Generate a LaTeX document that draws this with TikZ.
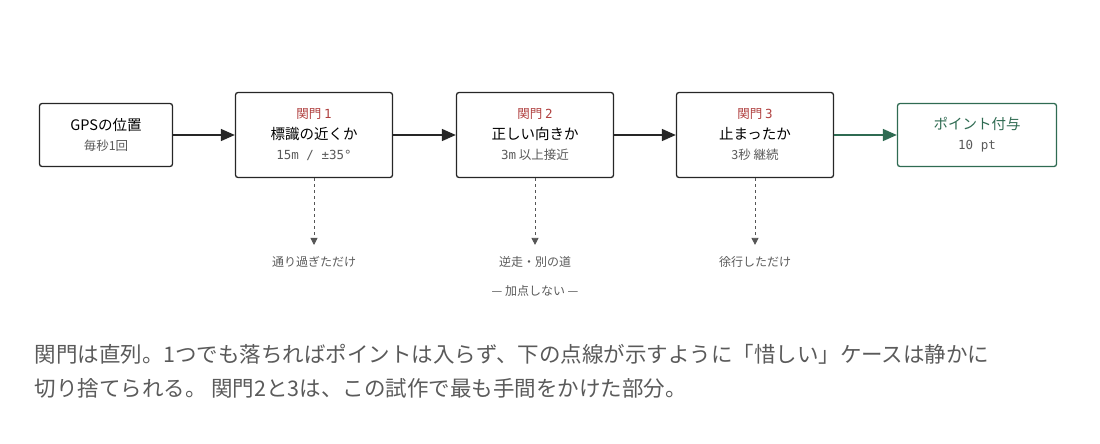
\documentclass[tikz,border=0pt]{standalone}
\usepackage{fontspec}
\setmainfont{Noto Sans CJK JP}
\newfontfamily\jpmono{DejaVu Sans Mono}
\usetikzlibrary{arrows.meta, positioning}
\definecolor{gatered}{HTML}{B0403F}
\definecolor{okgreen}{HTML}{2F6B52}
\definecolor{subgray}{HTML}{5A5A5A}
\definecolor{linegray}{HTML}{555555}

\tikzset{
    stage/.style={draw=black!85, line width=1.3pt, rounded corners=2.5pt, fill=white,
        minimum width=157pt, minimum height=85pt, align=center, font=\fontsize{14.5}{21}\selectfont},
    flow/.style={-{Triangle[length=14pt, width=12pt]}, line width=1.5pt, black!85},
    drop/.style={-{Triangle[length=7pt, width=7pt]}, dashed, line width=0.8pt, linegray},
    droplabel/.style={font=\fontsize{12}{14}\selectfont, text=subgray}
}

\begin{document}
\begin{tikzpicture}[x=1pt, y=-1pt]
    \useasboundingbox (0,0) rectangle (1100,444);

    % Pipeline stages
    \node[stage, minimum width=133pt, minimum height=63pt] (gps) at (106,135)
        {GPSの位置\\[-1pt]{\fontsize{12.5}{15}\selectfont\color{subgray}毎秒1回}};
    \node[stage] (gate1) at (314,135)
        {{\fontsize{12.5}{15}\selectfont\color{gatered}関門 {\jpmono 1}}\\標識の近くか\\[-1pt]{\fontsize{12.5}{15}\selectfont\color{subgray}\jpmono 15m / ±35°}};
    \node[stage] (gate2) at (535,135)
        {{\fontsize{12.5}{15}\selectfont\color{gatered}関門 {\jpmono 2}}\\正しい向きか\\[-1pt]{\fontsize{12.5}{15}\selectfont\color{subgray}{\jpmono 3m} 以上接近}};
    \node[stage] (gate3) at (755,135)
        {{\fontsize{12.5}{15}\selectfont\color{gatered}関門 {\jpmono 3}}\\止まったか\\[-1pt]{\fontsize{12.5}{15}\selectfont\color{subgray}3秒 継続}};
    \node[stage, draw=okgreen, minimum width=159pt, minimum height=63pt] (score) at (977,135)
        {{\color{okgreen}ポイント付与}\\[-1pt]{\fontsize{12.5}{15}\selectfont\color{subgray}\jpmono 10 pt}};

    \draw[flow] (gps) -- (gate1);
    \draw[flow] (gate1) -- (gate2);
    \draw[flow] (gate2) -- (gate3);
    \draw[flow, okgreen] (gate3) -- (score);

    % Rejected cases
    \node[droplabel] (miss1) at (314,262) {通り過ぎただけ};
    \node[droplabel] (miss2) at (535,262) {逆走・別の道};
    \node[droplabel] (miss3) at (755,262) {徐行しただけ};
    \foreach \g/\m in {gate1/miss1, gate2/miss2, gate3/miss3}
        \draw[drop] (\g.south) -- ([yshift=8pt]\m.north);
    \node[droplabel] (nopoint) at (535,291) {— 加点しない —};

    % Caption
    \node[anchor=west, text=subgray, font=\fontsize{21.5}{34}\selectfont, align=left] (caption) at (31,371)
        {関門は直列。1つでも落ちればポイントは入らず、下の点線が示すように「惜しい」ケースは静かに\\切り捨てられる。 関門2と3は、この試作で最も手間をかけた部分。};
\end{tikzpicture}
\end{document}
